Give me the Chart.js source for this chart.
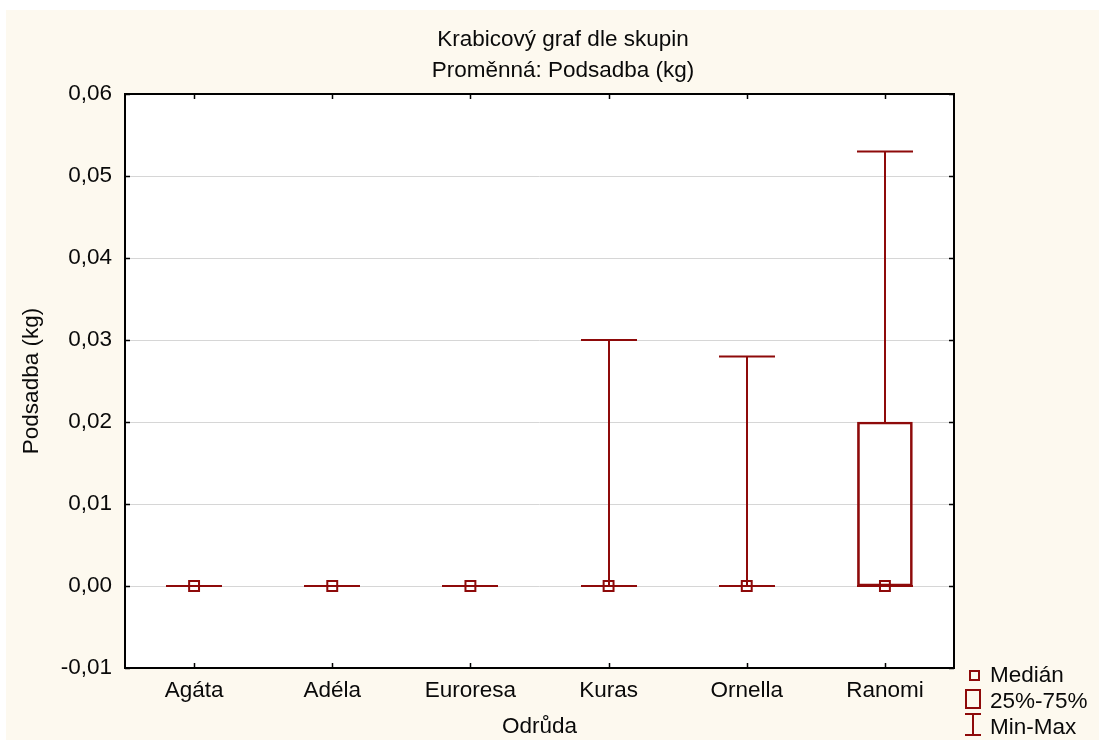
<!DOCTYPE html>
<html>
<head>
<meta charset="utf-8">
<script src="https://cdn.jsdelivr.net/npm/chart.js@4/dist/chart.umd.min.js"></script>
<style>
  html, body { margin: 0; padding: 0; background: #ffffff; }
  #wrap { position: absolute; left: 0; top: 0; width: 1099px; height: 740px; }
</style>
</head>
<body>
<div id="wrap"><canvas id="c" width="1099" height="740"></canvas></div>
<script>
// Podsadba (kg) by variety: box plot summary per group
const categories   = ['Agáta', 'Adéla', 'Euroresa', 'Kuras', 'Ornella', 'Ranomi'];
const minValues    = [0, 0, 0, 0, 0, 0];
const q1Values     = [0, 0, 0, 0, 0, 0];
const medianValues = [0, 0, 0, 0, 0, 0];
const q3Values     = [0, 0, 0, 0, 0, 0.02];
const maxValues    = [0, 0, 0, 0.03, 0.028, 0.053];

const titleLines   = ['Krabicový graf dle skupin', 'Proměnná: Podsadba (kg)'];
const xAxisTitle   = 'Odrůda';
const yAxisTitle   = 'Podsadba (kg)';
const legendLabels = ['Medián', '25%-75%', 'Min-Max'];

const RED   = '#8e0a0a';
const CREAM = '#fdf9ef';
const INK   = '#0a0a0a';
const FONT  = "'Liberation Sans', Arial, sans-serif";
const FSIZE = 22.5;

const boxPlotPlugin = {
  id: 'boxPlotExtras',
  beforeDraw(chart) {
    const { ctx, width, height, chartArea: a } = chart;
    ctx.save();
    ctx.fillStyle = '#ffffff';
    ctx.fillRect(0, 0, width, height);
    ctx.fillStyle = CREAM;
    ctx.fillRect(6, 10, width - 6, height - 10);
    ctx.fillStyle = '#ffffff';
    ctx.fillRect(a.left, a.top, a.right - a.left, a.bottom - a.top);
    ctx.restore();
  },
  beforeDatasetsDraw(chart) {
    // whiskers with end caps, min..q1 and q3..max
    const { ctx, scales: { x, y } } = chart;
    const capHalf = 28;
    ctx.save();
    ctx.strokeStyle = RED;
    ctx.lineWidth = 2;
    categories.forEach((c, i) => {
      const px = Math.round(x.getPixelForValue(i));
      const yMin = y.getPixelForValue(minValues[i]);
      const yQ1 = y.getPixelForValue(q1Values[i]);
      const yQ3 = y.getPixelForValue(q3Values[i]);
      const yMax = y.getPixelForValue(maxValues[i]);
      ctx.beginPath();
      ctx.moveTo(px, yQ3); ctx.lineTo(px, yMax);
      ctx.moveTo(px, yQ1); ctx.lineTo(px, yMin);
      ctx.moveTo(px - capHalf, yMax); ctx.lineTo(px + capHalf, yMax);
      ctx.moveTo(px - capHalf, yMin); ctx.lineTo(px + capHalf, yMin);
      ctx.stroke();
    });
    ctx.restore();
  },
  afterDraw(chart) {
    const { ctx, chartArea: a, scales: { x, y } } = chart;
    ctx.save();
    // frame
    ctx.strokeStyle = '#000000';
    ctx.lineWidth = 2;
    ctx.strokeRect(a.left, a.top, a.right - a.left, a.bottom - a.top);
    // inward tick marks
    ctx.lineWidth = 1.5;
    ctx.beginPath();
    categories.forEach((c, i) => {
      const px = Math.round(x.getPixelForValue(i)) + 0.5;
      ctx.moveTo(px, a.bottom); ctx.lineTo(px, a.bottom - 5);
      ctx.moveTo(px, a.top); ctx.lineTo(px, a.top + 5);
    });
    y.ticks.forEach(t => {
      const py = Math.round(y.getPixelForValue(t.value)) + 0.5;
      ctx.moveTo(a.left, py); ctx.lineTo(a.left + 5, py);
      ctx.moveTo(a.right, py); ctx.lineTo(a.right - 5, py);
    });
    ctx.stroke();

    // titles
    ctx.fillStyle = INK;
    ctx.font = FSIZE + 'px ' + FONT;
    ctx.textAlign = 'center';
    ctx.textBaseline = 'alphabetic';
    ctx.fillText(titleLines[0], 563, 46);
    ctx.fillText(titleLines[1], 563, 77);

    // legend
    ctx.strokeStyle = RED;
    ctx.lineWidth = 2;
    ctx.strokeRect(970, 671, 9, 9);
    ctx.strokeRect(966, 690, 14, 18);
    ctx.beginPath();
    ctx.moveTo(965, 714); ctx.lineTo(981, 714);
    ctx.moveTo(973, 714); ctx.lineTo(973, 735);
    ctx.moveTo(965, 735); ctx.lineTo(981, 735);
    ctx.stroke();
    ctx.fillStyle = INK;
    ctx.textAlign = 'left';
    ctx.fillText(legendLabels[0], 990, 682);
    ctx.fillText(legendLabels[1], 990, 708);
    ctx.fillText(legendLabels[2], 990, 734);
    ctx.restore();
  }
};

new Chart(document.getElementById('c'), {
  data: {
    labels: categories,
    datasets: [
      {
        type: 'bar',
        label: legendLabels[1],
        data: q1Values.map((q1, i) => [q1, q3Values[i]]),
        backgroundColor: 'rgba(0,0,0,0)',
        borderColor: RED,
        borderWidth: 2,
        borderSkipped: false,
        barThickness: 55,
        grouped: false,
        order: 2
      },
      {
        type: 'line',
        label: legendLabels[0],
        data: medianValues,
        showLine: false,
        pointStyle: 'rect',
        pointRadius: 7,
        pointBorderWidth: 2,
        pointBorderColor: RED,
        pointBackgroundColor: 'rgba(0,0,0,0)',
        order: 1
      }
    ]
  },
  options: {
    responsive: false,
    devicePixelRatio: 1,
    animation: false,
    events: [],
    layout: { padding: { left: 0, top: 94, right: 145, bottom: 0 } },
    plugins: { legend: { display: false }, title: { display: false }, tooltip: { enabled: false } },
    scales: {
      x: {
        type: 'category',
        offset: true,
        grid: { display: false, drawTicks: false },
        border: { display: false },
        ticks: { color: INK, font: { family: FONT, size: FSIZE }, padding: 9, maxRotation: 0 },
        title: { display: true, text: xAxisTitle, color: INK, font: { family: FONT, size: FSIZE }, padding: { top: 0, bottom: 0 } },
        afterFit(s) { s.height = 72; }
      },
      y: {
        type: 'linear',
        min: -0.01,
        max: 0.06,
        grid: { color: '#d6d6d6', lineWidth: 1, drawTicks: false },
        border: { display: false },
        ticks: {
          stepSize: 0.01,
          color: INK,
          font: { family: FONT, size: FSIZE },
          padding: 13,
          callback: v => (Math.abs(v) < 1e-9 ? 0 : v).toFixed(2).replace('.', ',')
        },
        title: { display: true, text: yAxisTitle, color: INK, font: { family: FONT, size: FSIZE }, padding: { top: 18, bottom: 0 } },
        afterFit(s) { s.width = 125; }
      }
    }
  },
  plugins: [boxPlotPlugin]
});
</script>
</body>
</html>
